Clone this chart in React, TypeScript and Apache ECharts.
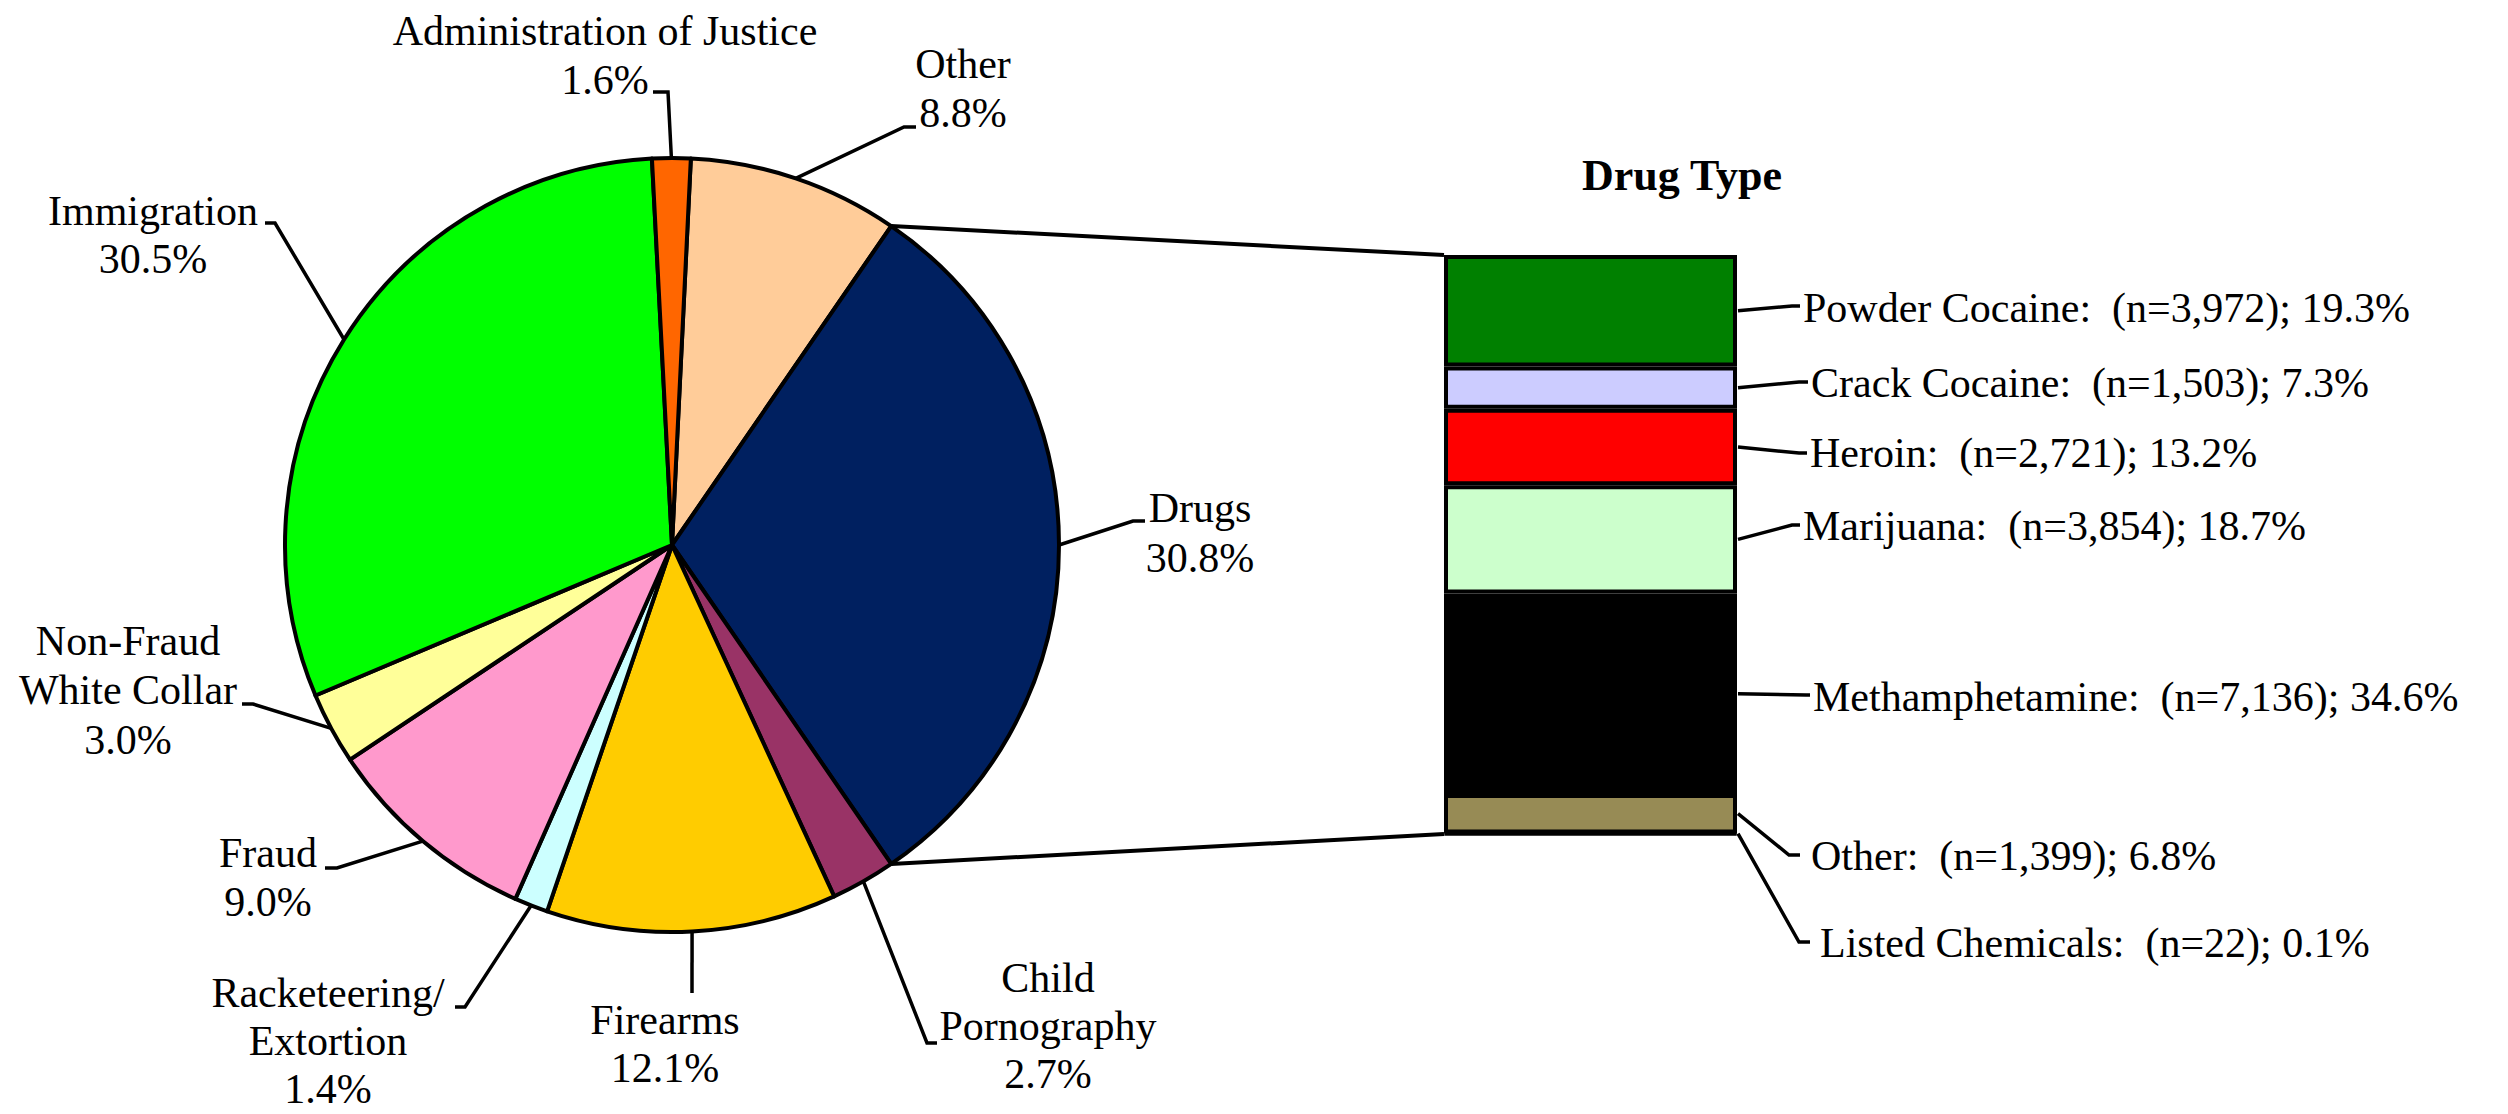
import React, { useEffect, useRef } from "react";
import * as echarts from "echarts";

// ---------- data ----------
const offenseLabelLines: string[][] = [
  ["Other"],
  ["Drugs"],
  ["Child", "Pornography"],
  ["Firearms"],
  ["Racketeering/", "Extortion"],
  ["Fraud"],
  ["Non-Fraud", "White Collar"],
  ["Immigration"],
  ["Administration of Justice"],
];
const offensePct = [8.8, 30.8, 2.7, 12.1, 1.4, 9.0, 3.0, 30.5, 1.6];
const offenseColors = ["#FFCC99", "#002060", "#993366", "#FFCC00", "#CCFFFF", "#FF99CC", "#FFFF99", "#00FF00", "#FF6600"];
const DRUG_INDEX = 1;

const drugTitle = "Drug Type";
const drugNames = ["Powder Cocaine", "Crack Cocaine", "Heroin", "Marijuana", "Methamphetamine", "Other", "Listed Chemicals"];
const drugCounts = [3972, 1503, 2721, 3854, 7136, 1399, 22];
const drugColors = ["#008000", "#CCCCFF", "#FF0000", "#CCFFCC", "#000000", "#978B55", "#333399"];

// ---------- layout ----------
const FONT = '"Liberation Serif", "Times New Roman", serif';
const FS = 42;
const PIE = { cx: 672, cy: 545, r: 387 };
const BAR = { left: 1444, top: 255, width: 293, height: 579 };

// label layout: centre x, first baseline, line height, leader points after the pie edge point
const pieLabelLayout = [
  { cx: 963, b: 78, lh: 49, pts: [[904, 127], [916, 127]] },
  { cx: 1200, b: 522, lh: 50, pts: [[1133, 521], [1145, 521]] },
  { cx: 1048, b: 992, lh: 48, pts: [[927, 1043], [937, 1043]] },
  { cx: 665, b: 1034, lh: 48, pts: [[692, 993]] },
  { cx: 328, b: 1007, lh: 48, pts: [[465, 1007], [455, 1007]] },
  { cx: 268, b: 867, lh: 49, pts: [[337, 868], [325, 868]] },
  { cx: 128, b: 655, lh: 49.5, pts: [[253, 704], [242, 704]] },
  { cx: 153, b: 225, lh: 48, pts: [[275, 223], [265, 223]] },
  { cx: 605, b: 45, lh: 49, pts: [[668, 92], [653, 92]] },
];
const drugLabelLayout = [
  { x: 1803, b: 322, pts: [[1792, 306], [1800, 306]] },
  { x: 1811, b: 397, pts: [[1799, 382], [1808, 382]] },
  { x: 1810, b: 467, pts: [[1799, 453], [1807, 453]] },
  { x: 1803, b: 540, pts: [[1792, 525], [1800, 525]] },
  { x: 1813, b: 711, pts: [[1806, 695], [1810, 695]] },
  { x: 1811, b: 870, pts: [[1789, 855], [1800, 855]] },
  { x: 1820, b: 957, pts: [[1799, 942], [1810, 942]] },
];
const titlePos = { cx: 1682, b: 190, fs: 44 };

function App() {
  const ref = useRef<HTMLDivElement>(null);
  useEffect(() => {
    if (!ref.current) return;
    const chart = echarts.init(ref.current, null, { renderer: "svg" });

    const pieTotal = offensePct.reduce((a, b) => a + b, 0);
    const cumBeforeDrug = offensePct.slice(0, DRUG_INDEX).reduce((a, b) => a + b, 0);
    const startAngle = ((cumBeforeDrug + offensePct[DRUG_INDEX] / 2) / pieTotal) * 360;
    const theta0 = 90 - startAngle; // clockwise from 12 o'clock
    const angleAt = (cum: number) => theta0 + (cum / pieTotal) * 360;
    const edge = (deg: number) => {
      const a = (deg * Math.PI) / 180;
      return [PIE.cx + PIE.r * Math.sin(a), PIE.cy - PIE.r * Math.cos(a)];
    };

    const drugTotal = drugCounts.reduce((a, b) => a + b, 0);

    chart.setOption({
      animation: false,
      backgroundColor: "#ffffff",
      grid: { left: BAR.left, top: BAR.top, width: BAR.width, height: BAR.height, containLabel: false },
      xAxis: { type: "category", data: [drugTitle], show: false },
      yAxis: { type: "value", min: 0, max: drugTotal, inverse: true, show: false },
      series: [
        {
          type: "pie",
          center: [PIE.cx, PIE.cy],
          radius: PIE.r,
          startAngle,
          clockwise: true,
          silent: true,
          label: { show: false },
          labelLine: { show: false },
          emphasis: { disabled: true },
          itemStyle: { borderColor: "#000", borderWidth: 4 },
          data: offensePct.map((v, i) => ({
            value: v,
            name: offenseLabelLines[i].join(" "),
            itemStyle: { color: offenseColors[i] },
          })),
        },
        ...drugCounts.map((n, i) => ({
          type: "bar",
          name: drugNames[i],
          stack: "drug",
          barWidth: "100%",
          silent: true,
          emphasis: { disabled: true },
          itemStyle: { color: drugColors[i], borderColor: "#000", borderWidth: 4 },
          data: [n],
        })),
      ],
    });

    const graphics: any[] = [];
    const yPix = (v: number) => chart.convertToPixel({ yAxisIndex: 0 }, v) as number;

    // connector lines pie -> bar
    const drugStart = angleAt(cumBeforeDrug);
    const drugEnd = angleAt(cumBeforeDrug + offensePct[DRUG_INDEX]);
    graphics.push({
      type: "line",
      shape: { x1: edge(drugStart)[0], y1: edge(drugStart)[1], x2: BAR.left, y2: yPix(0) },
      style: { stroke: "#000", lineWidth: 4 },
      z: 5,
    });
    graphics.push({
      type: "line",
      shape: { x1: edge(drugEnd)[0], y1: edge(drugEnd)[1], x2: BAR.left, y2: yPix(drugTotal) },
      style: { stroke: "#000", lineWidth: 4 },
      z: 5,
    });

    // pie labels
    let cum = 0;
    offensePct.forEach((v, i) => {
      const mid = angleAt(cum + v / 2);
      cum += v;
      const L = pieLabelLayout[i];
      graphics.push({
        type: "polyline",
        shape: { points: [edge(mid), ...L.pts] },
        style: { stroke: "#000", lineWidth: 3.5, fill: null },
        z: 5,
      });
      const lines = [...offenseLabelLines[i], v.toFixed(1) + "%"];
      lines.forEach((t, k) => {
        graphics.push({
          type: "text",
          style: {
            text: t,
            x: L.cx,
            y: L.b + k * L.lh - 0.3375 * FS,
            font: `${FS}px ${FONT}`,
            fill: "#000",
            align: "center",
            verticalAlign: "middle",
            textAlign: "center",
            textVerticalAlign: "middle",
          },
          z: 6,
        });
      });
    });

    // drug bar labels
    let dcum = 0;
    drugCounts.forEach((n, i) => {
      const midY = yPix(dcum + n / 2);
      dcum += n;
      const L = drugLabelLayout[i];
      graphics.push({
        type: "polyline",
        shape: { points: [[BAR.left + BAR.width + 1, midY], ...L.pts] },
        style: { stroke: "#000", lineWidth: 3.5, fill: null },
        z: 5,
      });
      const pct = ((n / drugTotal) * 100).toFixed(1);
      graphics.push({
        type: "text",
        style: {
          text: `${drugNames[i]}:  (n=${n.toLocaleString("en-US")}); ${pct}%`,
          x: L.x,
          y: L.b - 0.3375 * FS,
          font: `${FS}px ${FONT}`,
          fill: "#000",
          align: "left",
          verticalAlign: "middle",
          textAlign: "left",
          textVerticalAlign: "middle",
        },
        z: 6,
      });
    });

    graphics.push({
      type: "text",
      style: {
        text: drugTitle,
        x: titlePos.cx,
        y: titlePos.b - 0.3375 * titlePos.fs,
        font: `bold ${titlePos.fs}px ${FONT}`,
        fill: "#000",
        align: "center",
        verticalAlign: "middle",
        textAlign: "center",
        textVerticalAlign: "middle",
      },
      z: 6,
    });

    chart.setOption({ graphic: { elements: graphics } });

    return () => chart.dispose();
  }, []);

  return (
    <div
      ref={ref}
      style={{ position: "fixed", left: 0, top: 0, width: 2508, height: 1114, background: "#fff" }}
    />
  );
}

export default App;
